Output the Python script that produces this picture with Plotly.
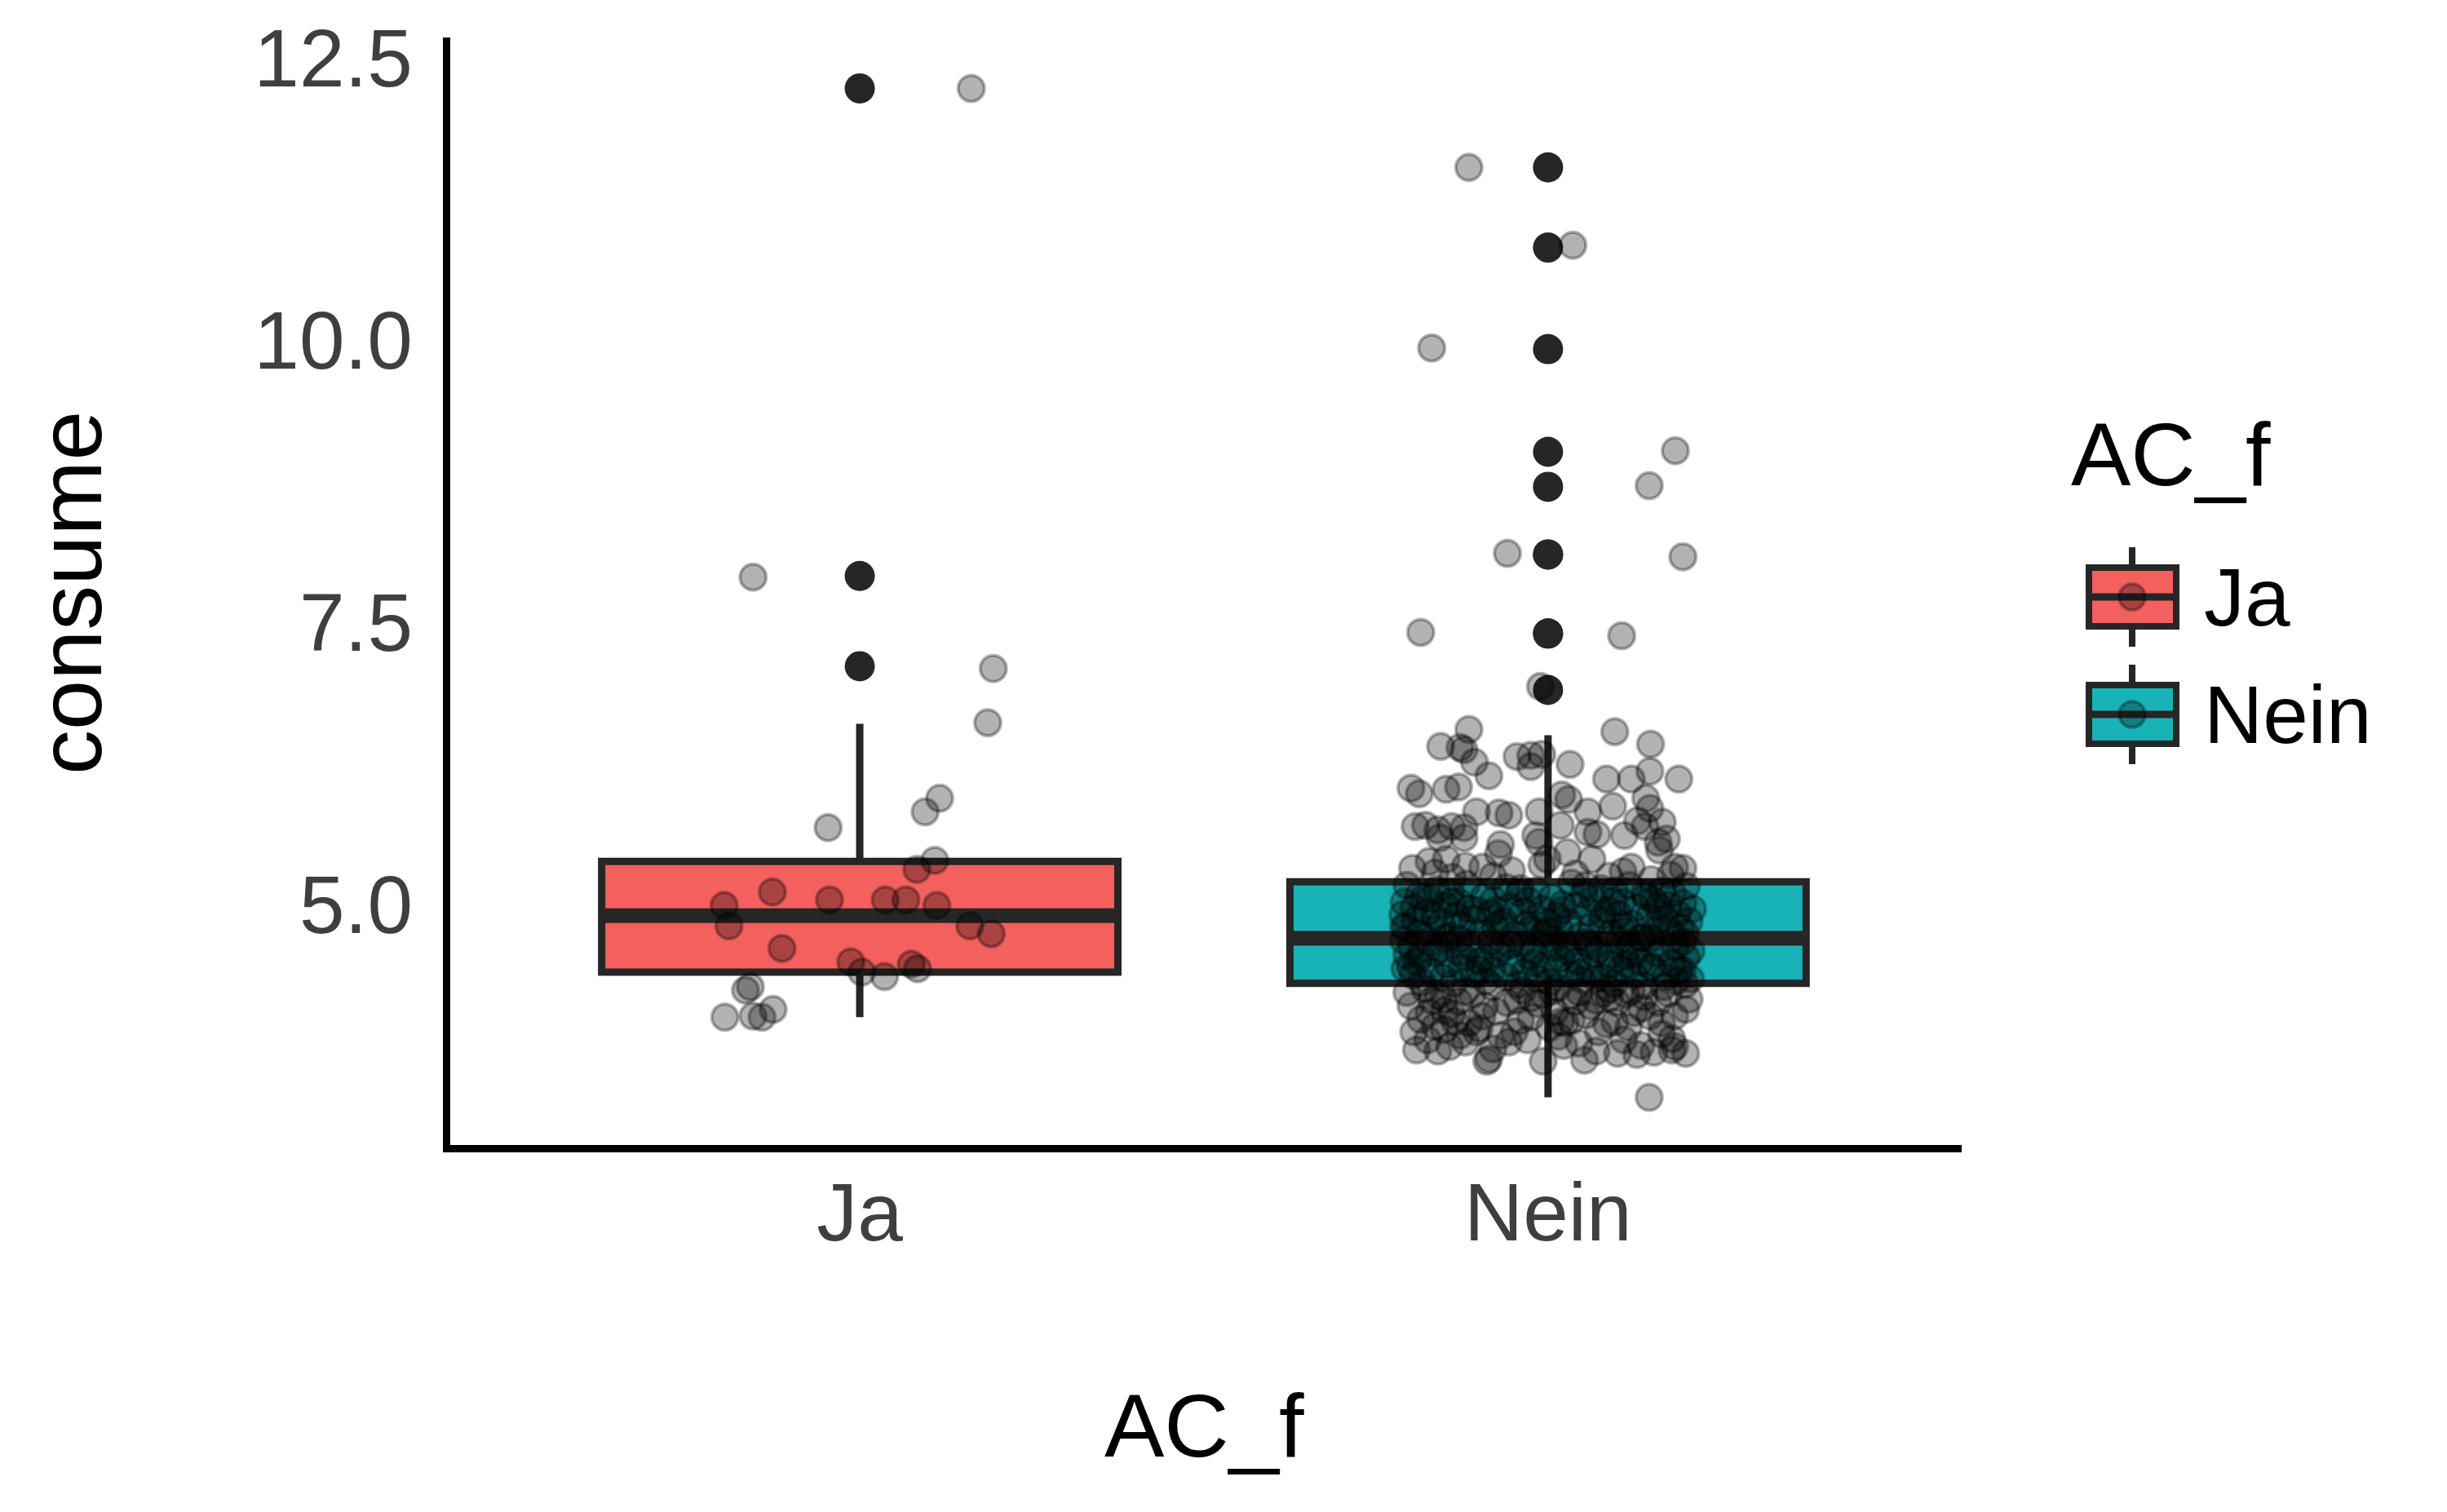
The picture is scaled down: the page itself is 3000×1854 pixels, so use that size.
import plotly.graph_objects as go

# Kategorien und Farben
categories = ["Ja", "Nein"]
fill_colors = ["#F3605D", "#17B3B7"]

# Boxplot-Kennwerte je Kategorie
box_q1 = [4.40, 4.30]
box_median = [4.90, 4.70]
box_q3 = [5.38, 5.20]
box_lower = [4.00, 3.29]
box_upper = [6.60, 6.50]

# Ausreisser (schwarz, auf der Mittellinie)
ja_outliers = [12.23, 7.91, 7.11]
nein_outliers = [11.53, 10.82, 9.92, 9.01, 8.70, 8.10, 8.10, 7.40, 7.40, 6.90]

# Gejitterte Einzelwerte: Versatz in x und Wert
ja_dx = [0.162, -0.155, 0.194, 0.186, 0.116, 0.095, -0.046, 0.109, 0.083, -0.127,
         -0.197, -0.044, 0.037, 0.067, 0.112, -0.190, 0.160, 0.191, -0.113, -0.013,
         0.003, 0.075, 0.084, 0.036, -0.166, -0.159, -0.126, -0.196, -0.155, -0.142]
ja_y = [12.23, 7.90, 7.09, 6.61, 5.94, 5.82, 5.68, 5.39, 5.31, 5.11,
        4.99, 5.04, 5.04, 5.04, 4.99, 4.81, 4.81, 4.74, 4.61, 4.49,
        4.40, 4.47, 4.43, 4.36, 4.24, 4.27, 4.07, 4.00, 4.01, 4.00]

nein_dx = [
    # Ausreisser-Kopien
    -0.115, 0.036, -0.169, 0.185, 0.147, -0.059, 0.196, -0.185, 0.107, -0.011,
    # oberhalb der Box
    -0.115, -0.156, -0.128, -0.122, -0.107, -0.086, -0.045, -0.025, -0.009, -0.025,
    0.032, 0.097, 0.149, 0.085, 0.121, 0.148, 0.190, -0.199, -0.187, -0.148,
    -0.130, 0.020, 0.030, 0.058, 0.094, 0.142, 0.148, -0.104, -0.071, -0.057,
    -0.013, -0.193, -0.178, -0.160, -0.140, -0.122, -0.122, -0.157, -0.069, -0.072,
    -0.018, -0.013, 0.018, 0.058, 0.071, 0.111, 0.130, 0.141, 0.166, 0.160,
    0.172, 0.162, 0.028, 0.064, -0.001, -0.009, -0.197, -0.173, -0.164, -0.148,
    -0.120, -0.095, -0.053, 0.121, 0.109, 0.184, 0.196, 0.178, 0.089, -0.139,
    0.040, -0.080, 0.150,
    # in der Box
    -0.205, -0.162, -0.118, -0.061, -0.017, 0.034, 0.077, 0.118, 0.166, 0.201,
    -0.188, -0.141, -0.093, -0.042, 0.006, 0.052, 0.097, 0.142, 0.181,
    -0.209, -0.171, -0.127, -0.079, -0.028, 0.021, 0.066, 0.108, 0.153, 0.196,
    -0.195, -0.149, -0.104, -0.055, -0.009, 0.041, 0.087, 0.129, 0.174, 0.210,
    -0.211, -0.176, -0.133, -0.084, -0.036, 0.013, 0.059, 0.102, 0.147, 0.188,
    -0.193, -0.155, -0.110, -0.064, -0.019, 0.030, 0.078, 0.121, 0.163, 0.205,
    -0.207, -0.168, -0.124, -0.076, -0.031, 0.017, 0.063, 0.111, 0.156, 0.193,
    -0.186, -0.142, -0.097, -0.049, -0.003, 0.046, 0.091, 0.137, 0.179,
    -0.210, -0.172, -0.129, -0.083, -0.038, 0.008, 0.055, 0.103, 0.149, 0.196,
    -0.198, -0.157, -0.113, -0.066, -0.021, 0.027, 0.074, 0.119, 0.165, 0.208,
    -0.205, -0.164, -0.121, -0.074, -0.027, 0.019, 0.068, 0.112, 0.158, 0.201,
    -0.190, -0.146, -0.099, -0.052, -0.006, 0.043, 0.089, 0.134, 0.180,
    -0.208, -0.170, -0.126, -0.081, -0.034, 0.012, 0.060, 0.106, 0.151, 0.195,
    -0.196, -0.153, -0.108, -0.061, -0.015, 0.033, 0.081, 0.125, 0.171, 0.207,
    -0.183, -0.137, -0.090, -0.044, 0.002, 0.050, 0.096, 0.140, 0.186,
    -0.180, -0.115, -0.070, -0.005, 0.060, 0.125, 0.170, -0.150, -0.090, 0.020,
    0.095, 0.150, -0.200, 0.185, -0.040, 0.045, 0.110, -0.130, 0.000, 0.080,
    -0.055, 0.140, -0.165, 0.200, -0.020, 0.070, -0.100, 0.160, -0.185, 0.030,
    0.115, -0.140, 0.055, -0.075, 0.190, -0.210, 0.010, 0.135, -0.025, 0.090,
    # unterhalb der Box
    -0.179, -0.120, -0.081, -0.037, 0.014, 0.046, 0.089, 0.121, 0.168, 0.199,
    -0.199, -0.169, -0.151, -0.092, -0.096, -0.060, -0.025, -0.006, 0.030, 0.062,
    0.089, 0.113, 0.160, 0.184, 0.070, 0.136, -0.173, -0.140,
    -0.195, -0.164, -0.151, -0.128, -0.104, -0.069, -0.049, -0.025, 0.002, 0.018,
    0.034, 0.073, 0.097, 0.117, 0.148,
    -0.191, -0.143, -0.089, -0.086, -0.007, 0.023, 0.053, 0.101, 0.129, 0.154,
    0.180, 0.200, 0.184, 0.180, -0.057, 0.147,
    -0.205, -0.160, -0.130, -0.110, -0.045, -0.015, 0.005, 0.040, 0.080, 0.100,
    0.140, 0.175, 0.205,
    -0.185, -0.150, -0.115, -0.075, -0.040, 0.010, 0.025, 0.055, 0.085, 0.125,
    0.165, 0.200, -0.135,
    -0.175, -0.120, -0.080, -0.030, 0.015, 0.045, 0.110, 0.135, 0.165, -0.160,
    -0.100, 0.070,
]
nein_y = [
    11.53, 10.84, 9.93, 9.02, 8.71, 8.11, 8.08, 7.41, 7.38, 6.93,
    6.55, 6.40, 6.39, 6.37, 6.26, 6.14, 6.31, 6.32, 6.33, 6.22,
    6.24, 6.53, 6.42, 6.11, 6.11, 6.18, 6.11, 6.03, 5.98, 6.02,
    6.04, 5.97, 5.93, 5.82, 5.87, 5.94, 5.85, 5.82, 5.81, 5.79,
    5.82, 5.69, 5.70, 5.66, 5.69, 5.68, 5.59, 5.59, 5.53, 5.45,
    5.61, 5.55, 5.70, 5.64, 5.62, 5.61, 5.74, 5.69, 5.73, 5.55,
    5.58, 5.48, 5.46, 5.40, 5.40, 5.35, 5.32, 5.38, 5.28, 5.40,
    5.34, 5.33, 5.30, 5.33, 5.29, 5.33, 5.32, 5.26, 5.25, 5.24,
    5.27, 5.25, 5.22,
    5.17, 5.13, 5.18, 5.15, 5.12, 5.19, 5.14, 5.17, 5.12, 5.16,
    5.08, 5.11, 5.07, 5.10, 5.06, 5.09, 5.12, 5.07, 5.10,
    5.02, 5.05, 5.01, 5.04, 5.03, 5.00, 5.05, 5.02, 5.04, 5.01,
    4.97, 4.99, 4.95, 4.98, 4.96, 4.99, 4.95, 4.97, 4.99, 4.96,
    4.91, 4.93, 4.90, 4.92, 4.94, 4.90, 4.93, 4.91, 4.89, 4.92,
    4.86, 4.84, 4.87, 4.85, 4.88, 4.84, 4.86, 4.83, 4.87, 4.85,
    4.80, 4.78, 4.81, 4.79, 4.82, 4.78, 4.80, 4.81, 4.77, 4.79,
    4.74, 4.72, 4.75, 4.73, 4.76, 4.72, 4.74, 4.71, 4.75,
    4.68, 4.66, 4.69, 4.67, 4.65, 4.69, 4.66, 4.68, 4.70, 4.67,
    4.62, 4.60, 4.63, 4.61, 4.59, 4.63, 4.60, 4.62, 4.61, 4.59,
    4.55, 4.57, 4.53, 4.56, 4.54, 4.52, 4.56, 4.54, 4.57, 4.53,
    4.49, 4.47, 4.50, 4.48, 4.46, 4.50, 4.47, 4.49, 4.48,
    4.43, 4.41, 4.44, 4.42, 4.40, 4.44, 4.41, 4.43, 4.45, 4.42,
    4.37, 4.35, 4.38, 4.36, 4.34, 4.38, 4.35, 4.37, 4.36, 4.34,
    4.31, 4.30, 4.32, 4.29, 4.31, 4.33, 4.30, 4.28, 4.32,
    5.06, 4.96, 4.83, 4.73, 4.64, 4.56, 4.88, 4.70, 4.52, 4.95,
    5.02, 4.44, 4.45, 4.62, 5.14, 4.40, 4.76, 4.58, 4.84, 4.90,
    4.64, 5.10, 4.90, 4.74, 4.48, 4.34, 4.42, 4.98, 4.55, 4.58,
    4.47, 5.02, 5.17, 4.95, 4.42, 4.80, 4.62, 4.70, 4.78, 4.55,
    4.25, 4.23, 4.27, 4.24, 4.26, 4.22, 4.25, 4.23, 4.27, 4.29,
    4.10, 4.15, 4.16, 4.10, 4.01, 4.13, 4.17, 4.20, 4.19, 4.10,
    4.17, 4.20, 4.13, 4.01, 4.15, 4.08, 4.04, 4.03,
    3.87, 3.92, 3.89, 3.84, 3.87, 3.84, 3.87, 4.00, 3.91, 3.96,
    3.97, 3.87, 3.96, 3.91, 4.01,
    3.71, 3.74, 3.61, 3.63, 3.61, 3.75, 3.62, 3.68, 3.67, 3.69,
    3.71, 3.68, 3.74, 3.81, 3.78, 3.29,
    4.22, 4.19, 4.14, 4.20, 4.15, 4.12, 4.23, 4.14, 4.21, 4.13,
    4.18, 4.21, 4.16,
    3.98, 4.06, 3.95, 4.05, 3.97, 4.05, 3.95, 4.02, 3.94, 4.04,
    3.95, 4.07, 3.96,
    3.80, 3.78, 3.72, 3.80, 3.83, 3.77, 3.80, 3.75, 3.85, 3.70,
    3.90, 3.70,
]

y_ticks = [5.0, 7.5, 10.0, 12.5]
y_tick_labels = ["5.0", "7.5", "10.0", "12.5"]

box_width = 0.75
line_col = "#262626"
font_family = "Liberation Sans, Arial, sans-serif"

outliers = [ja_outliers, nein_outliers]
jitter_dx = [ja_dx, nein_dx]
jitter_y = [ja_y, nein_y]

fig = go.Figure()

for i, cat in enumerate(categories):
    fig.add_trace(go.Box(
        x=[i], q1=[box_q1[i]], median=[box_median[i]], q3=[box_q3[i]],
        lowerfence=[box_lower[i]], upperfence=[box_upper[i]],
        width=box_width, whiskerwidth=0, boxpoints=False,
        fillcolor=fill_colors[i], line=dict(color=line_col, width=9),
        name=cat, showlegend=False, hoverinfo="skip"))
    # dickere Medianlinie wie bei ggplot
    fig.add_trace(go.Scatter(
        x=[i - box_width / 2, i + box_width / 2], y=[box_median[i], box_median[i]],
        mode="lines", line=dict(color=line_col, width=18),
        showlegend=False, hoverinfo="skip"))
    fig.add_trace(go.Scatter(
        x=[i] * len(outliers[i]), y=outliers[i], mode="markers",
        marker=dict(size=37, color=line_col, line=dict(width=0)),
        showlegend=False, hoverinfo="skip"))

for i, cat in enumerate(categories):
    fig.add_trace(go.Scatter(
        x=[i + d for d in jitter_dx[i]], y=jitter_y[i], mode="markers",
        marker=dict(size=32, color="rgba(0,0,0,0.3)",
                    line=dict(color="rgba(0,0,0,0.3)", width=4)),
        showlegend=False, hoverinfo="skip"))

# Plotflaeche in Pixeln
L, R, T, B = 552, 2405, 46, 1404
W, H = 3000, 1854


def px(x):
    return (x - L) / (R - L)


def py(y):
    return (B - y) / (B - T)


# Legende von Hand (ggplot-Stil)
shapes = []
annotations = []
legend_cy = [732, 876]
for i, cat in enumerate(categories):
    cy = legend_cy[i]
    shapes.append(dict(type="rect", xref="paper", yref="paper",
                       x0=px(2561), x1=px(2668), y0=py(cy + 36), y1=py(cy - 36),
                       fillcolor=fill_colors[i], line=dict(color=line_col, width=8)))
    shapes.append(dict(type="line", xref="paper", yref="paper",
                       x0=px(2561), x1=px(2668), y0=py(cy), y1=py(cy),
                       line=dict(color=line_col, width=9)))
    shapes.append(dict(type="line", xref="paper", yref="paper",
                       x0=px(2614), x1=px(2614), y0=py(cy - 36), y1=py(cy - 61),
                       line=dict(color=line_col, width=8)))
    shapes.append(dict(type="line", xref="paper", yref="paper",
                       x0=px(2614), x1=px(2614), y0=py(cy + 36), y1=py(cy + 61),
                       line=dict(color=line_col, width=8)))
    shapes.append(dict(type="circle", xref="paper", yref="paper",
                       x0=px(2598), x1=px(2630), y0=py(cy + 16), y1=py(cy - 16),
                       fillcolor="rgba(0,0,0,0.3)",
                       line=dict(color="rgba(0,0,0,0.3)", width=4)))
    annotations.append(dict(text=cat, xref="paper", yref="paper",
                            x=px(2700), y=py(cy), xanchor="left", yanchor="middle",
                            showarrow=False, font=dict(size=100, color="black")))

annotations.append(dict(text="AC_f", xref="paper", yref="paper",
                        x=px(2537), y=py(556), xanchor="left", yanchor="middle",
                        showarrow=False, font=dict(size=110, color="black")))
# Achsentitel
annotations.append(dict(text="AC_f", xref="paper", yref="paper",
                        x=px(1476), y=py(1747), xanchor="center", yanchor="middle",
                        showarrow=False, font=dict(size=110, color="black")))
annotations.append(dict(text="consume", xref="paper", yref="paper",
                        x=px(85), y=py(727), xanchor="center", yanchor="middle",
                        textangle=-90, showarrow=False,
                        font=dict(size=110, color="black")))

fig.update_layout(
    width=W, height=H,
    margin=dict(l=L, r=W - R, t=T, b=H - B, pad=0),
    paper_bgcolor="white", plot_bgcolor="white",
    font=dict(family=font_family),
    showlegend=False,
    shapes=shapes, annotations=annotations,
    xaxis=dict(range=[-0.595, 1.601], tickvals=[0, 1], ticktext=categories,
               showgrid=False, zeroline=False, showline=True,
               linecolor="black", linewidth=9, ticks="",
               ticklabelstandoff=-12,
               tickfont=dict(size=100, color="#3f3f3f")),
    yaxis=dict(range=[2.868, 12.681], tickvals=y_ticks, ticktext=y_tick_labels,
               showgrid=False, zeroline=False, showline=True,
               linecolor="black", linewidth=9, ticks="",
               ticklabelstandoff=17,
               tickfont=dict(size=100, color="#3f3f3f")),
)

fig.write_html("out.html", config={"displayModeBar": False},
               post_script="document.body.style.margin='0';")
